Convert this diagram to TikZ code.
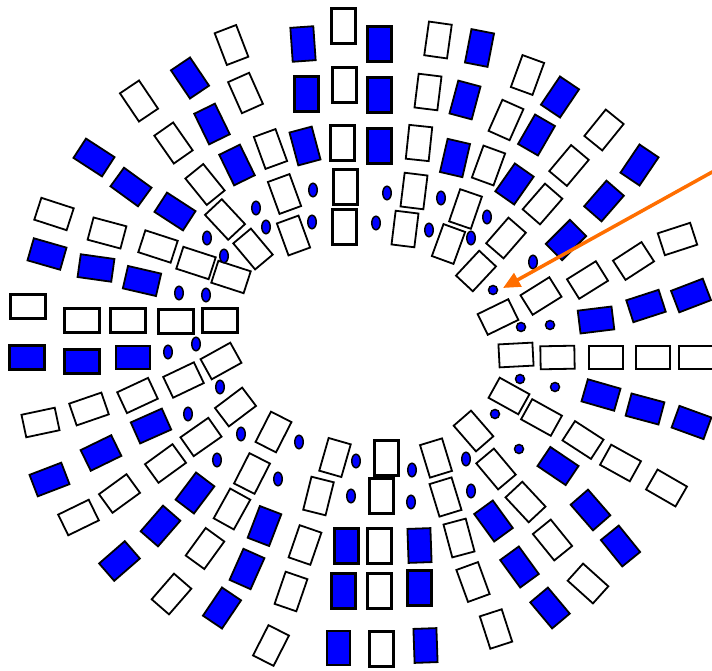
\documentclass[tikz,border=0pt]{standalone}
\usetikzlibrary{shapes.geometric,arrows.meta}
\definecolor{pblue}{RGB}{0,0,255}
\definecolor{porange}{RGB}{255,110,0}
\begin{document}
\begin{tikzpicture}[x=1pt,y=-1pt,
  box/.style={draw=black,rectangle,inner sep=0pt,minimum width=23pt,minimum height=34pt,line width=1.8pt},
  wrect/.style={box,fill=white},
  brect/.style={box,fill=pblue},
  thk/.style={line width=3pt,minimum width=24pt,minimum height=35pt},
  dot/.style={draw=black,fill=pblue,ellipse,inner sep=0pt,minimum width=8.5pt,minimum height=13.5pt,line width=1.5pt},
  cdot/.style={draw=black,fill=pblue,circle,inner sep=0pt,minimum size=9pt,line width=1.5pt}]
\useasboundingbox (0,0) rectangle (712,671);
% white boxes, normal border
\foreach \x/\y/\r [count=\i] in {
 231.5/45/21, 245.5/93/24, 139/101/34, 173.5/143/35, 270.5/149/20, 205/184.5/39,
 284.5/194/20, 54/214/72, 225/219.5/43, 107/233/75, 158/246.5/72, 253/249/40,
 293.5/235.5/20, 196/263/72, 231/277/72,
 438/40/-8, 527.5/75/-20, 428/92/-7, 506/120/-24, 604/130/-39, 419/143/-6,
 488.5/165.5/-20, 569/165.5/-40, 414/191/-7, 405/229/-7, 465.5/209/-19,
 448.5/244/-20, 542.5/204/-41, 506/238/-41, 476/271/-43, 677.5/239/-72,
 633.5/261/-57, 587.5/280/-58, 541/296/-58, 498/317/-64,
 516/355/93, 557.5/357.5/91, 606/357.5/90, 653/357.5/90, 696/357.5/90,
 509/396/61, 541.5/417.5/61, 583/440/57, 620.5/463/61, 666.5/488/60,
 473.5/431/41, 496/469/40, 525.5/502/43, 552.5/540/39, 588/583.5/48,
 436/458/17, 445.5/497/17, 459/538/15, 473/582/20, 496/629/18,
 335/457.5/-16, 318.5/496/-14, 305/545/-19, 291/591.5/-19, 271/645.5/-27,
 273.5/432/-27, 252/473.5/-27, 232/509/-29, 205/548.5/-36, 171.5/594/-41,
 235.5/407/-53, 201/437/-55, 165.5/463.5/-54, 119.5/493.5/-54, 78.5/517.5/-64,
 221/361/-61, 183.5/380/-64.5, 137.5/395.5/-65, 89/409/-71, 40.5/422.5/-78}
 \node[wrect,rotate=\r] (w\i) at (\x,\y) {};
% white boxes, thick border
\foreach \x/\y/\r [count=\i] in {
 343.5/26/0, 344/85/0, 342/143/0, 345/187/0, 344/227/0, 386/458/0, 381/496/0,
 379/545.5/0, 379/591/0, 381/648.5/0,
 27.5/306/90, 82/320/90, 127.5/320/90, 176/321/90, 219.5/320/90}
 \node[wrect,thk,rotate=\r] (wt\i) at (\x,\y) {};
% blue boxes, normal border
\foreach \x/\y/\r [count=\i] in {
 190/78/34, 212/124/26, 237/165/26, 94/157.5/57, 131/187/54, 175/211.5/57,
 47/254/74, 96/268/82, 142/281/77, 305/146/15, 303/44/4,
 479.5/48/-11, 465/100/-15, 455/158/-13, 560/97/-34, 536.5/135/-30, 514.5/184/-35,
 639.5/165/-34, 604/201/-41, 566/240/-45,
 596/320/-83, 646/306/-72, 691/295.5/-69, 601/395/74, 645/409/75, 691.5/422.5/70,
 558/466/56, 590.5/510/41, 620.5/546/39, 493.5/521/36, 519.5/567/36, 550/608/40,
 419.5/545.5/2, 425.5/645.5/2, 338.5/648/0,
 264.5/526/-21, 247/569/-24, 222/608/-34, 195/493/-37, 160.5/526/-41, 119.5/561/-49,
 101/453/-64, 49.5/479.5/-69, 151/426/-66, 133/357.5/90}
 \node[brect,rotate=\r] (b\i) at (\x,\y) {};
% blue boxes, thick border
\foreach \x/\y/\r [count=\i] in {
 306/94/0, 379/44/0, 379/95/0, 379/146/0, 346/545.5/0, 343.5/591/0, 419/588/0,
 27/357.5/90, 82/361/90}
 \node[brect,thk,rotate=\r] (bt\i) at (\x,\y) {};
% oval dots
\foreach \x/\y [count=\i] in {
 207/238, 224/256, 179/293, 206/295, 168/352, 196/344, 220/387, 188/414,
 241/434, 217/460, 299/442, 278/479, 356/461, 351/496, 412/470, 411/502,
 466/459, 471/491, 256/208, 266/227, 313/190, 312/222, 387/193, 376/223,
 441/198, 429/230, 487/217, 471/238, 533/262}
 \node[dot] (e\i) at (\x,\y) {};
% round dots
\foreach \x/\y [count=\i] in {
 493/290, 521/327, 550/325, 520/379, 555/387, 495/414, 519/449}
 \node[cdot] (c\i) at (\x,\y) {};
% pointer
\coordinate (astart) at (714,171);
\coordinate (atip) at (503,288);
\draw[porange,line width=3.5pt,-{Triangle[length=17pt,width=15pt]}] (astart) -- (atip);
\end{tikzpicture}
\end{document}
